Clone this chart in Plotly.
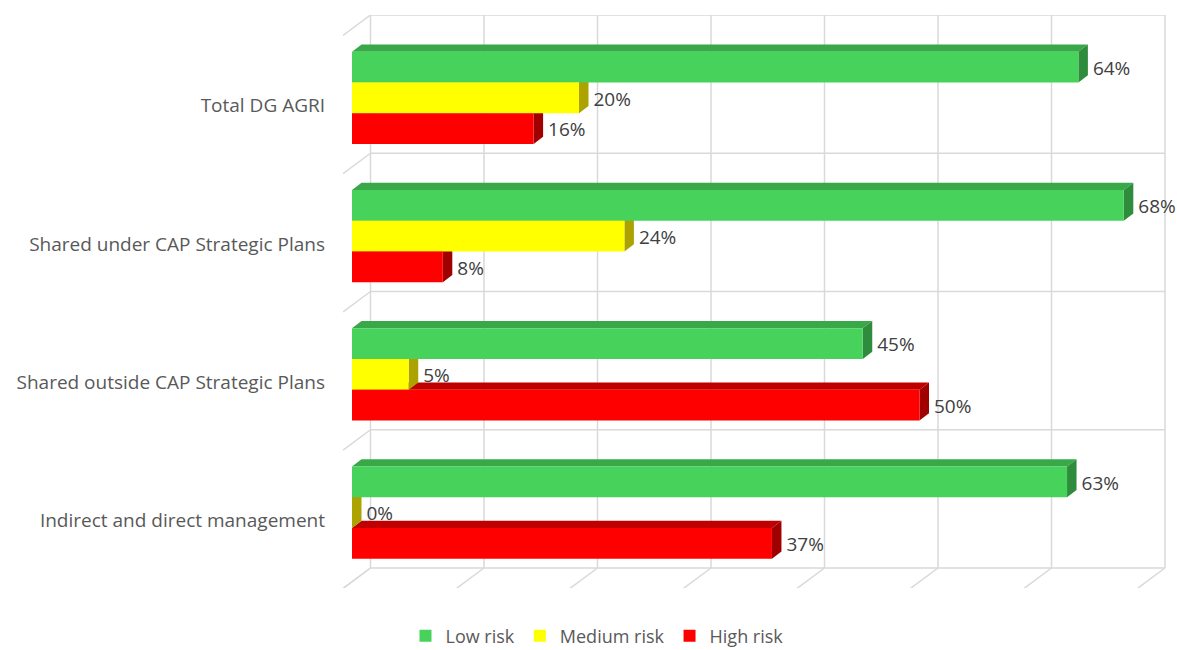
import plotly.graph_objects as go

# ---------------- data ----------------
categories = ["Total DG AGRI", "Shared under CAP Strategic Plans",
              "Shared outside CAP Strategic Plans", "Indirect and direct management"]
low_risk = [0.64, 0.68, 0.45, 0.63]
medium_risk = [0.20, 0.24, 0.05, 0.00]
high_risk = [0.16, 0.08, 0.50, 0.37]
series_names = ["Low risk", "Medium risk", "High risk"]
x_ticks = [0.0, 0.1, 0.2, 0.3, 0.4, 0.5, 0.6, 0.7]

# ---------------- style / geometry ----------------
W, H = 1177, 650
ML, MR, MT, MB = 343, 7, 15, 62
PX_X = 1135.0      # pixels per x unit (bar plane)
PX_Y = 138.25      # pixels per category unit
X0_PX = 352.0      # px of x=0 on bar plane
YB_PX = 581.7      # px of y=-0.5 on bar plane

x_range = [(ML - X0_PX) / PX_X, (W - MR - X0_PX) / PX_X]
y_range = [-0.5 + (YB_PX - (H - MB)) / PX_Y, -0.5 + (YB_PX - MT) / PX_Y]

# depth offsets (data units)
dxw, dyw = 18.5 / PX_X, 13.7 / PX_Y     # bar plane -> back wall
dxf, dyf = -9.0 / PX_X, -6.7 / PX_Y     # bar plane -> front edge
dxb, dyb = 9.5 / PX_X, 7.2 / PX_Y       # bar depth
bw = 30.8 / PX_Y                        # bar thickness
label_gap = 5.0 / PX_X
label_dy = -3.0 / PX_Y

front_cols = ["#47D35B", "#FFFF00", "#FF0000"]
top_cols = ["#38A848", "#C8BE00", "#C00000"]
side_cols = ["#2E8C3C", "#ADA300", "#A00000"]
grid_col = "#D9D9D9"
FONT = "Open Sans"

ncat = len(categories)
centers = [ncat - 1 - i for i in range(ncat)]
values = [low_risk, medium_risk, high_risk]
offsets = [bw, 0.0, -bw]

fig = go.Figure()
shapes = []


def line(x0, y0, x1, y1):
    shapes.append(dict(type="line", xref="x", yref="y", x0=x0, y0=y0, x1=x1, y1=y1,
                       line=dict(color=grid_col, width=1.5), layer="below"))


# back wall grid
ybot, ytop = -0.5 + dyw, ncat - 0.5 + dyw
for v in x_ticks:
    line(v + dxw, ybot, v + dxw, ytop)
    line(v + dxf, -0.5 + dyf, v + dxw, ybot)            # floor diagonals
for k in range(ncat + 1):
    yk = k - 0.5
    line(dxw, yk + dyw, x_ticks[-1] + dxw, yk + dyw)      # horizontal back lines
    line(dxf, yk + dyf, dxw, yk + dyw)                   # left wall diagonals


def poly(pts, color):
    d = "M " + " L ".join(f"{px},{py}" for px, py in pts) + " Z"
    shapes.append(dict(type="path", xref="x", yref="y", path=d, fillcolor=color,
                       line=dict(width=0), layer="below"))


# top faces first, then side faces
for s in range(3):
    for i in range(ncat):
        v = values[s][i]
        yt = centers[i] + offsets[s] + bw / 2
        poly([(0, yt), (v, yt), (v + dxb, yt + dyb), (dxb, yt + dyb)], top_cols[s])
for s in range(3):
    for i in range(ncat):
        v = values[s][i]
        yc = centers[i] + offsets[s]
        yt, yb = yc + bw / 2, yc - bw / 2
        poly([(v, yb), (v, yt), (v + dxb, yt + dyb), (v + dxb, yb + dyb)], side_cols[s])

# front faces
for s in range(3):
    fig.add_trace(go.Bar(
        name=series_names[s], orientation="h",
        x=values[s], y=[c + offsets[s] for c in centers], width=bw, base=0,
        marker=dict(color=front_cols[s], line=dict(width=0)),
        hoverinfo="skip"))

# data labels
for s in range(3):
    fig.add_trace(go.Scatter(
        x=[v + dxb + label_gap for v in values[s]], y=[c + offsets[s] + label_dy for c in centers],
        mode="text", text=[f"{round(v * 100)}%" for v in values[s]],
        textposition="middle right",
        textfont=dict(family=FONT, size=19, color="#404040"),
        showlegend=False, hoverinfo="skip", cliponaxis=False))

fig.update_layout(
    width=W, height=H,
    margin=dict(l=ML, r=MR, t=MT, b=MB, autoexpand=False),
    paper_bgcolor="white", plot_bgcolor="white",
    barmode="overlay",
    shapes=shapes,
    showlegend=True,
    legend=dict(orientation="h", xref="paper", x=(597 - ML) / (W - ML - MR), xanchor="center",
                yref="container", y=(H - 636) / H, yanchor="middle",
                font=dict(family=FONT, size=18, color="#595959"),
                itemwidth=30, traceorder="normal"),
    xaxis=dict(range=x_range, showgrid=False, zeroline=False, showticklabels=False,
               showline=False, fixedrange=True, automargin=False),
    yaxis=dict(range=y_range, showgrid=False, zeroline=False, showline=False,
               tickmode="array", tickvals=[c - 0.057 for c in centers], ticktext=categories,
               ticks="", ticklabelstandoff=17, automargin=False,
               tickfont=dict(family=FONT, size=19, color="#595959"), fixedrange=True),
)

fig.write_html("out.html")
